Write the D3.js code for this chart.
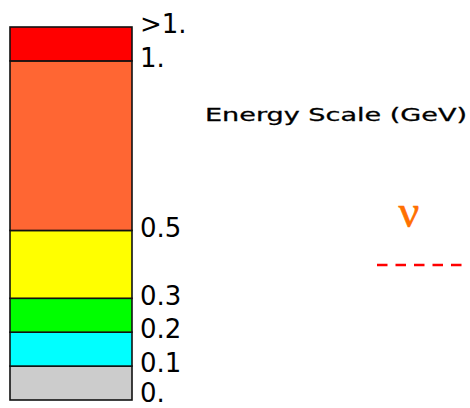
<!DOCTYPE html>
<html>
<head>
<meta charset="utf-8">
<script src="https://cdn.jsdelivr.net/npm/d3@7"></script>
<style>
html, body { margin: 0; padding: 0; background: #fff; }
svg { display: block; }
</style>
</head>
<body>
<svg id="chart" width="470" height="408"></svg>
<script>
// ---- data ----
const bandLower = [0, 0.1, 0.2, 0.3, 0.5, 1.0];
const bandUpper = [0.1, 0.2, 0.3, 0.5, 1.0, 1.1];
const bandColors = ["#cccccc", "#00ffff", "#00ff00", "#ffff00", "#ff6633", "#ff0000"];
const tickValues = [0, 0.1, 0.2, 0.3, 0.5, 1.0, 1.1];
const tickLabels = ["0.", "0.1", "0.2", "0.3", "0.5", "1.", ">1."];
const titleText = "Energy Scale (GeV)";
const particleSymbol = "\u03BD";

// ---- drawing ----
const W = 470, H = 408;
const svg = d3.select("#chart");
const y = d3.scaleLinear().domain([0, 1.1]).range([400, 27]);
const x0 = 10, x1 = 132;

const bands = bandLower.map((lo, i) => ({ lo, hi: bandUpper[i], color: bandColors[i] }));

svg.append("g").selectAll("rect")
  .data(bands)
  .join("rect")
  .attr("x", x0)
  .attr("width", x1 - x0)
  .attr("y", d => y(d.hi))
  .attr("height", d => y(d.lo) - y(d.hi))
  .attr("fill", d => d.color)
  .attr("stroke", "#111")
  .attr("stroke-width", 1.6);

const axis = d3.axisRight(y)
  .tickValues(tickValues)
  .tickFormat((d, i) => tickLabels[i])
  .tickSize(0)
  .tickPadding(8);

const fs = 26;
const ag = svg.append("g").attr("transform", `translate(${x1},0)`).call(axis);
ag.select(".domain").remove();
ag.selectAll("text")
  .attr("font-family", "DejaVu Sans, sans-serif")
  .attr("font-size", fs)
  .attr("fill", "#000")
  // keep each label's box (incl. descent) inside the picture
  .attr("dy", d => Math.min(0.22 * fs, H - 0.25 * fs - y(d)));

svg.append("text")
  .attr("x", 205)
  .attr("y", 121)
  .attr("font-family", "DejaVu Sans, sans-serif")
  .attr("font-size", 18)
  .attr("textLength", 262)
  .attr("lengthAdjust", "spacingAndGlyphs")
  .attr("fill", "#000")
  .attr("stroke", "#000")
  .attr("stroke-width", 0.3)
  .text(titleText);

svg.append("text")
  .attr("x", 409)
  .attr("y", 227)
  .attr("text-anchor", "middle")
  .attr("font-family", "Liberation Serif, serif")
  .attr("font-size", 46)
  .attr("fill", "#ff7000")
  .attr("stroke", "#ff7000")
  .attr("stroke-width", 0.6)
  .text(particleSymbol);

svg.append("line")
  .attr("x1", 377)
  .attr("x2", 464)
  .attr("y1", 265)
  .attr("y2", 265)
  .attr("stroke", "#ff0000")
  .attr("stroke-width", 2.5)
  .attr("stroke-dasharray", "10.5,8");
</script>
</body>
</html>
